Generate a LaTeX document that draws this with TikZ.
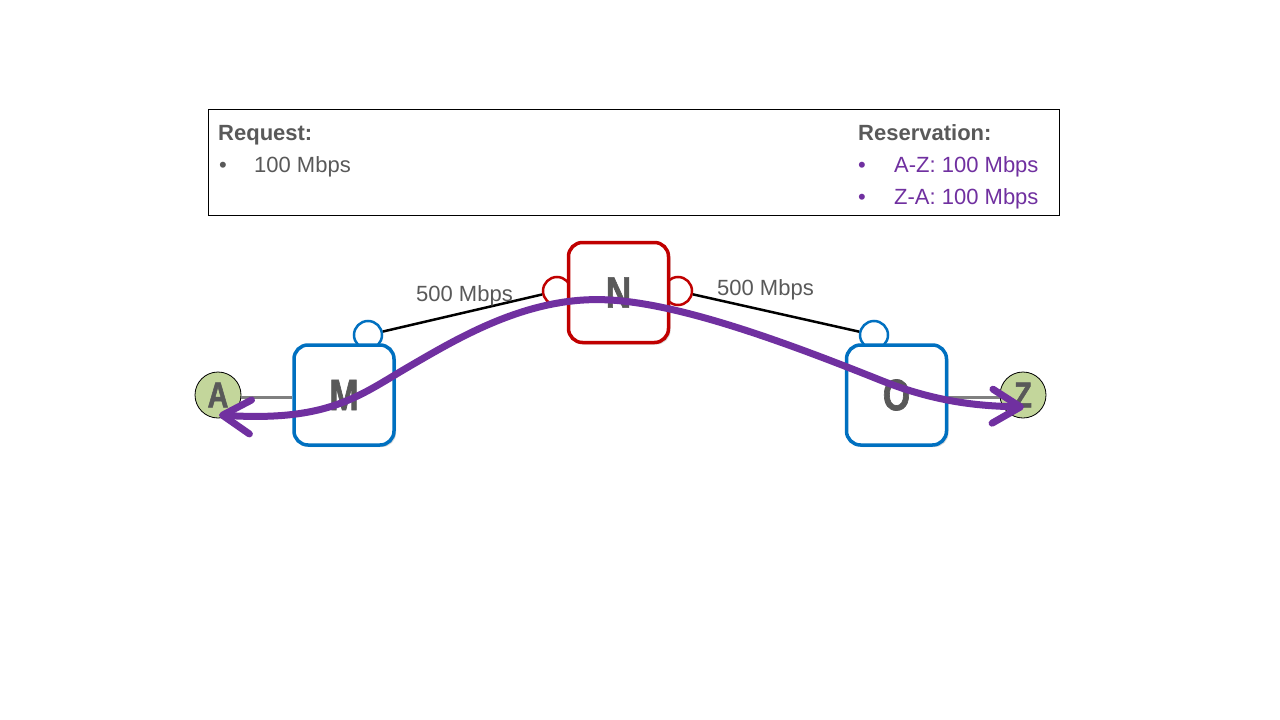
\documentclass[tikz,border=0pt]{standalone}
\usepackage{fontspec}
\setmainfont{Liberation Sans}
\newfontfamily\heavyfont[FakeStretch=0.8,FakeBold=1.5]{Liberation Sans Bold}
\usetikzlibrary{arrows.meta,shadows}
\definecolor{txtgray}{HTML}{595959}
\definecolor{nblue}{HTML}{0070C0}
\definecolor{nred}{HTML}{C00000}
\definecolor{hostgreen}{HTML}{C3D69B}
\definecolor{resv}{HTML}{7030A0}
\definecolor{linkgray}{HTML}{808080}
\begin{document}
\begin{tikzpicture}[x=1pt,y=-1pt,
  txt/.style={text=txtgray,font=\fontsize{22}{26}\selectfont,inner sep=0pt,anchor=base west},
  ptxt/.style={txt,text=resv},
  dev/.style={draw=#1,line width=3.5pt,fill=white,rounded corners=14pt,minimum width=100pt,minimum height=100pt,
    inner sep=0pt,text=txtgray,font=\heavyfont\fontsize{44}{44}\selectfont,
    drop shadow={shadow xshift=2pt,shadow yshift=-2pt,opacity=0.3}},
  port/.style={draw=#1,line width=2.5pt,fill=white,circle,minimum size=28pt,inner sep=0pt},
  host/.style={draw=black,line width=0.8pt,fill=hostgreen,circle,minimum size=46pt,inner sep=0pt,
    text=txtgray,font=\heavyfont\fontsize{36}{36}\selectfont},
  blink/.style={draw=black,line width=2.5pt},
  glink/.style={draw=linkgray,line width=3pt},
  resvpath/.style={draw=resv,line width=7pt,line cap=round,
    {Straight Barb[length=28pt,width=34pt,round]}-{Straight Barb[length=28pt,width=34pt,round]}}
]
\useasboundingbox[fill=white] (0,0) rectangle (1280,720);

% info box
\node[draw=black,line width=0.8pt,minimum width=851pt,minimum height=106pt,inner sep=0pt,anchor=north west] (box) at (208,109) {};
\node[txt,font=\bfseries\fontsize{22}{26}\selectfont] (req) at (218,140) {Request:};
\node[txt] (reqb) at (219,172) {•};
\node[txt] (reqv) at (254,172) {100 Mbps};
\node[txt,font=\bfseries\fontsize{22}{26}\selectfont] (res) at (858,140) {Reservation:};
\node[ptxt] (resb1) at (858,172) {•};
\node[ptxt] (resv1) at (894,172) {A-Z: 100 Mbps};
\node[ptxt] (resb2) at (858,204) {•};
\node[ptxt] (resv2) at (894,204) {Z-A: 100 Mbps};

% ports
\node[port=nblue] (mp) at (368,335) {};
\node[port=nred] (nl) at (557,291) {};
\node[port=nred] (nr) at (678,291) {};
\node[port=nblue] (op) at (874,335) {};

% hosts
\node[host] (A) at (218,395) {A};
\node[host] (Z) at (1023,395) {Z};

% links
\draw[blink] (mp) -- (nl);
\draw[blink] (nr) -- (op);
\coordinate (am) at (241,397);
\coordinate (ma) at (292,397);
\coordinate (oz) at (948,397);
\coordinate (zo) at (1000,397);
\draw[glink] (am) -- (ma);
\draw[glink] (oz) -- (zo);

% devices
\node[dev=nblue] (M) at (344,395) {M};
\node[dev=nred] (N) at (618.5,292.5) {N};
\node[dev=nblue] (O) at (896.5,395) {O};

% link labels
\node[txt] (l1) at (416,301) {500 Mbps};
\node[txt] (l2) at (717,295) {500 Mbps};

% reservation path
\coordinate (ta) at (219,415);
\coordinate (tz) at (1024,407);
\draw[resvpath] (ta) .. controls (330,422) and (360,395) .. (410,366)
  .. controls (460,337) and (530,295) .. (610,300)
  .. controls (680,304) and (780,340) .. (880,380)
  .. controls (940,404) and (985,406) .. (tz);
\end{tikzpicture}
\end{document}
